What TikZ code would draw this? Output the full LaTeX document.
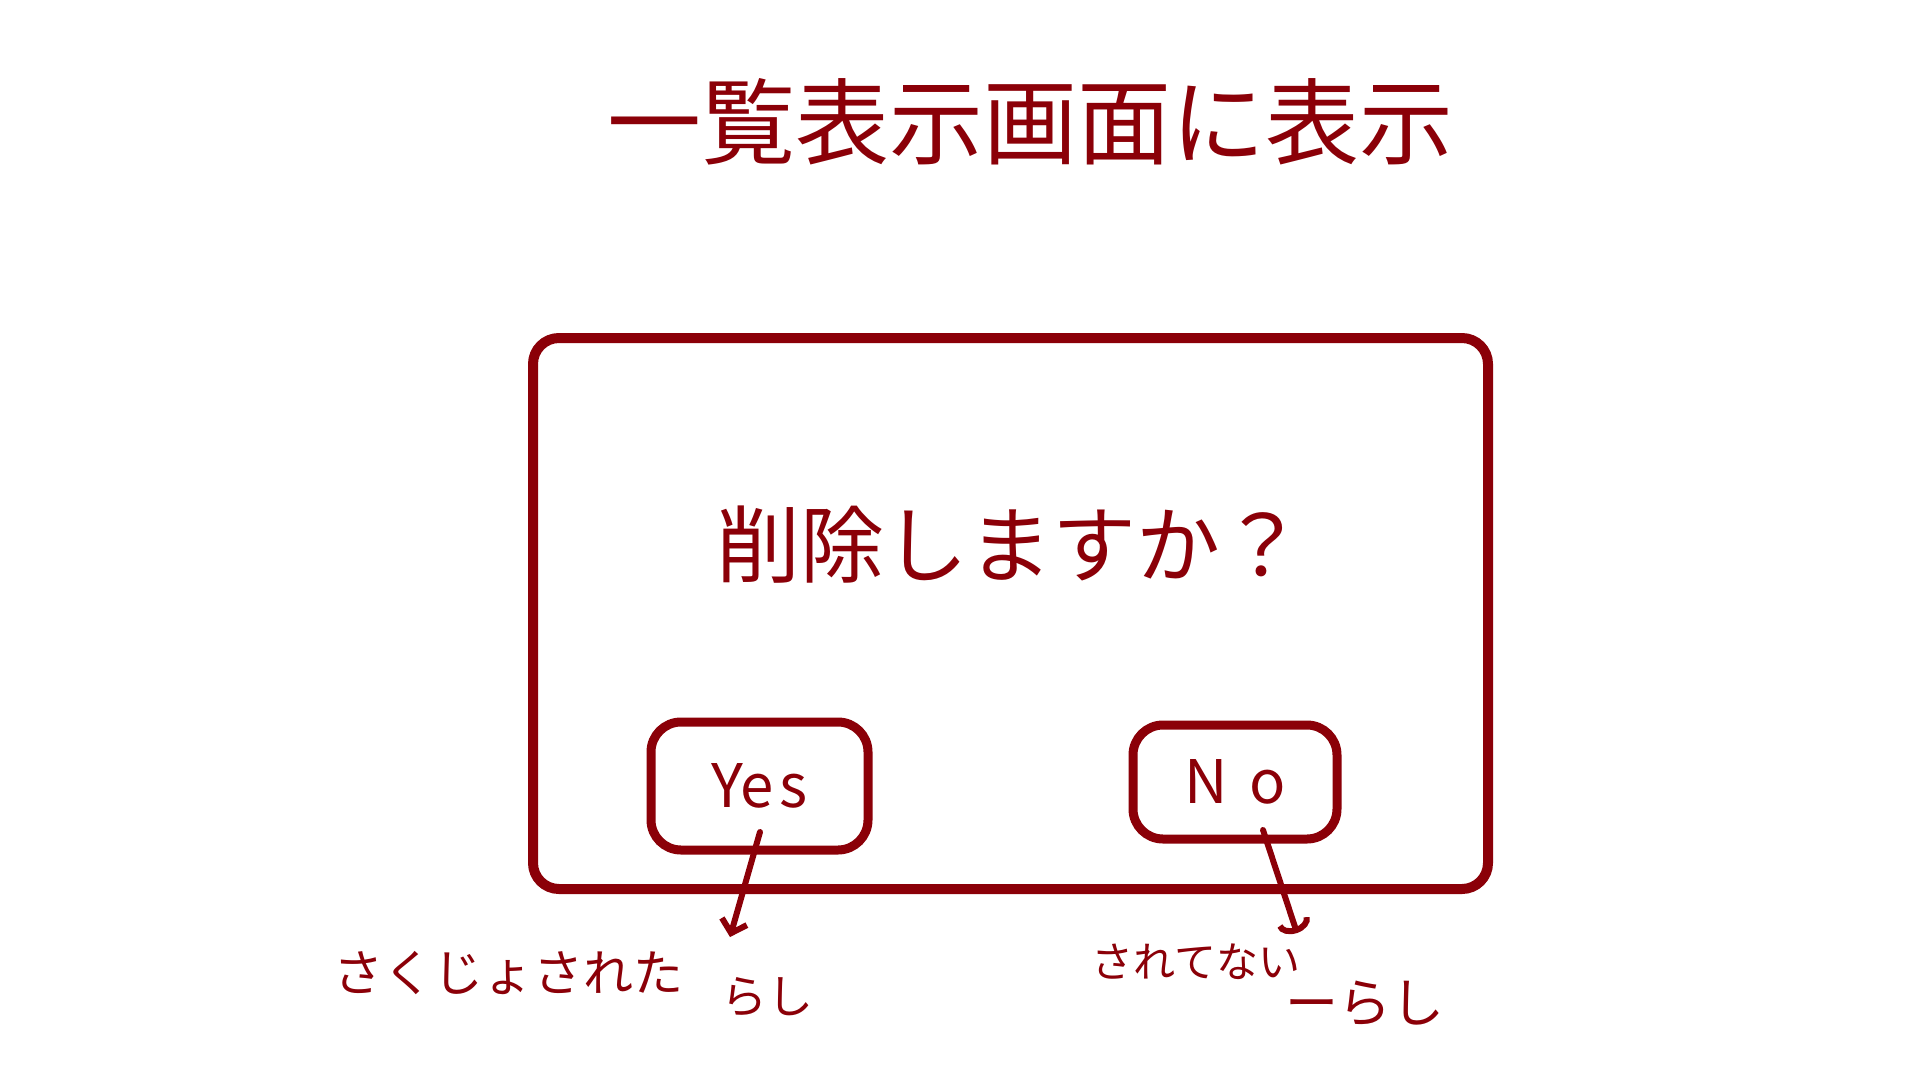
\documentclass[tikz,border=0pt]{standalone}
\usepackage{fontspec}
\newfontfamily\jp{Noto Sans CJK JP}
\usetikzlibrary{arrows.meta}
\definecolor{ink}{RGB}{139,0,8}
\tikzset{
  frame/.style={draw=ink, line width=10pt, rounded corners=26pt, minimum width=955pt, minimum height=551pt, inner sep=0pt, outer sep=0pt},
  button/.style={draw=ink, line width=9pt, rounded corners=30pt, inner sep=0pt, outer sep=0pt, text=ink, font=\jp\fontsize{60}{60}\selectfont},
  label/.style={text=ink, inner sep=0pt, anchor=center},
  pointer/.style={draw=ink, line width=6pt, line cap=round},
}
\begin{document}
\begin{tikzpicture}[x=1pt,y=-1pt]
\useasboundingbox (0,0) rectangle (1920,1080);
\fill[white] (0,0) rectangle (1920,1080);

\node[label, font=\jp\fontsize{94}{94}\selectfont] (title) at (1030,122) {一覧表示画面に表示};

\node[frame] (dialog) at (1010.5,613.5) {};
\node[label, font=\jp\fontsize{84}{84}\selectfont] (question) at (1010,545) {削除しますか？};

\node[button, minimum width=217pt, minimum height=128pt] (yes) at (759.5,786) {\raisebox{-12pt}{Ye\kern6pt s}};
\node[button, minimum width=204pt, minimum height=114pt] (no) at (1235,782) {\raisebox{-14pt}{N\kern22pt o}};

\coordinate (yesStart) at (760,832);
\coordinate (yesEnd) at (730,937);
\coordinate (noStart) at (1263,830);
\coordinate (noEnd) at (1297,933);

\draw[pointer, -{Straight Barb[length=12pt,width=26pt,line width=6pt]}] (yesStart) -- (yesEnd);
\draw[pointer, -{Arc Barb[length=12pt,width=34pt,line width=6pt]}] (noStart) -- (noEnd);

\node[label, font=\jp\fontsize{50}{50}\selectfont] (deleted) at (508,973) {さくじょされた};
\node[label, font=\jp\fontsize{46}{46}\selectfont] (deletedResult) at (767,997) {らし};
\node[label, font=\jp\fontsize{42}{42}\selectfont] (notDeleted) at (1196,962) {されてない};
\node[label, font=\jp\fontsize{53}{53}\selectfont] (notDeletedResult) at (1365,1003) {ーらし};
\end{tikzpicture}
\end{document}
